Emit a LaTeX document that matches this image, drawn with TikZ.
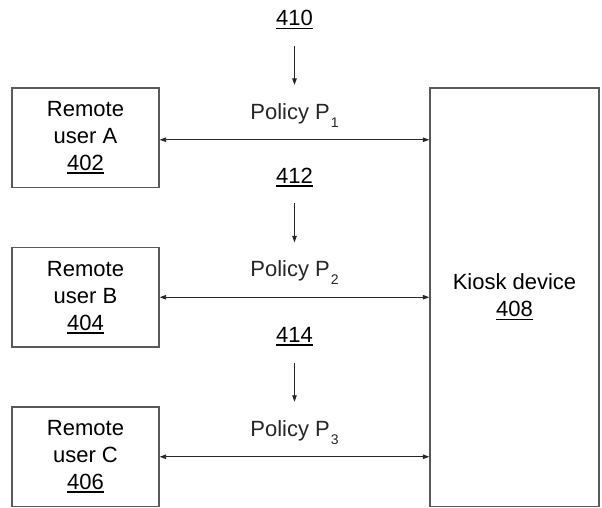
\documentclass[tikz,border=0pt]{standalone}
\usepackage{fontspec}
\setmainfont{Liberation Sans}
\usetikzlibrary{arrows.meta,positioning}

\newcommand\refnum[1]{\setbox0\hbox{#1}\rlap{\rule[-3.5pt]{\wd0}{1.6pt}}\box0}
\newcommand\polsub[1]{\kern1pt\raisebox{-8pt}{\fontsize{14}{14}\selectfont #1}}

\begin{document}
\begin{tikzpicture}[
  font=\fontsize{22}{27}\selectfont,
  node distance=58.7pt and 269.7pt,
  user/.style={draw=black!65,line width=1.3pt,minimum width=147pt,minimum height=99.5pt,align=center,inner sep=0pt},
  kiosk/.style={draw=black!65,line width=1.3pt,minimum width=169pt,minimum height=418.5pt,align=center,inner sep=0pt},
  policy/.style={inner sep=0pt,above=12pt},
  refno/.style={inner sep=0pt,above=73.5pt of #1},
  link/.style={{Triangle[length=6.5pt,width=4.5pt]}-{Triangle[length=6.5pt,width=4.5pt]},line width=0.9pt,black!85},
  feed/.style={-{Triangle[length=6.5pt,width=4.5pt]},line width=0.9pt,black!85,shorten <=16.5pt,shorten >=18pt}
]
  \useasboundingbox (0,0) rectangle (602pt,-508pt);

  \node[user] (A) at (85.5pt,-137.75pt) {Remote\\user A\\\refnum{402}};
  \node[user,below=of A] (B) {Remote\\user B\\\refnum{404}};
  \node[user,below=of B] (C) {Remote\\user C\\\refnum{406}};
  \node[kiosk,right=of A.north east,anchor=north west] (K) {Kiosk device\\\refnum{408}};

  \draw[link] ([yshift=-2pt]A.east) -- ([yshift=-2pt]A.east -| K.west) node[midway,policy] (P1) {Policy P\polsub{1}};
  \draw[link] (B.east) -- (B.east -| K.west) node[midway,policy] (P2) {Policy P\polsub{2}};
  \draw[link] (C.east) -- (C.east -| K.west) node[midway,policy] (P3) {Policy P\polsub{3}};

  \node[refno=P1] (N1) {\refnum{410}};
  \node[refno=P2] (N2) {\refnum{412}};
  \node[refno=P3] (N3) {\refnum{414}};

  \draw[feed] (N1) -- (P1);
  \draw[feed] (N2) -- (P2);
  \draw[feed] (N3) -- (P3);
\end{tikzpicture}
\end{document}
